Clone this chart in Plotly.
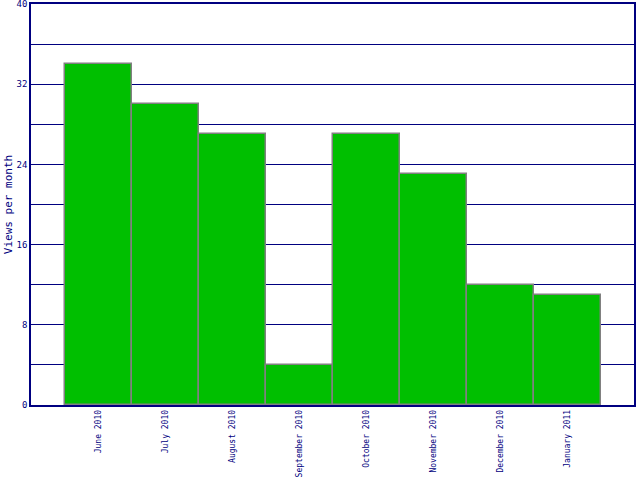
import plotly.graph_objects as go

months = ["June 2010", "July 2010", "August 2010", "September 2010",
          "October 2010", "November 2010", "December 2010", "January 2011"]
views = [34, 30, 27, 4, 27, 23, 12, 11]

y_ticks = list(range(0, 41, 4))
y_text = [str(v) if v % 8 == 0 else "" for v in y_ticks]

navy = "#000080"

fig = go.Figure()
fig.add_trace(go.Bar(
    x=list(range(len(months))), y=views,
    width=1.0,
    marker=dict(color="#00bf00", line=dict(color="#808080", width=1.5)),
    hoverinfo="skip",
))

fig.update_layout(
    width=640, height=480,
    margin=dict(l=31, r=6, t=4, b=75, autoexpand=False),
    paper_bgcolor="white", plot_bgcolor="white",
    font=dict(family="DejaVu Sans Mono", color=navy, size=9),
    showlegend=False,
    bargap=0,
)
fig.update_xaxes(
    range=[-1, 8], automargin=False,
    tickvals=list(range(len(months))), ticktext=months,
    tickangle=-90, ticks="", showgrid=False,
    showline=True, linecolor=navy, linewidth=1.5, mirror=True,
    tickfont=dict(size=8),
)
fig.update_yaxes(
    range=[0, 40], automargin=False, ticklabeloverflow="allow",
    tickvals=y_ticks, ticktext=y_text,
    showgrid=True, gridcolor=navy, gridwidth=1.2,
    showline=True, linecolor=navy, linewidth=1.5, mirror=True,
    zeroline=False, ticks="",
    title=dict(text="Views per month", font=dict(size=11), standoff=2),
)

# page body has a default margin, drop it so the chart sits at the corner
fig.write_html("out.html", config={"displayModeBar": False},
               post_script="document.body.style.margin='0';")
